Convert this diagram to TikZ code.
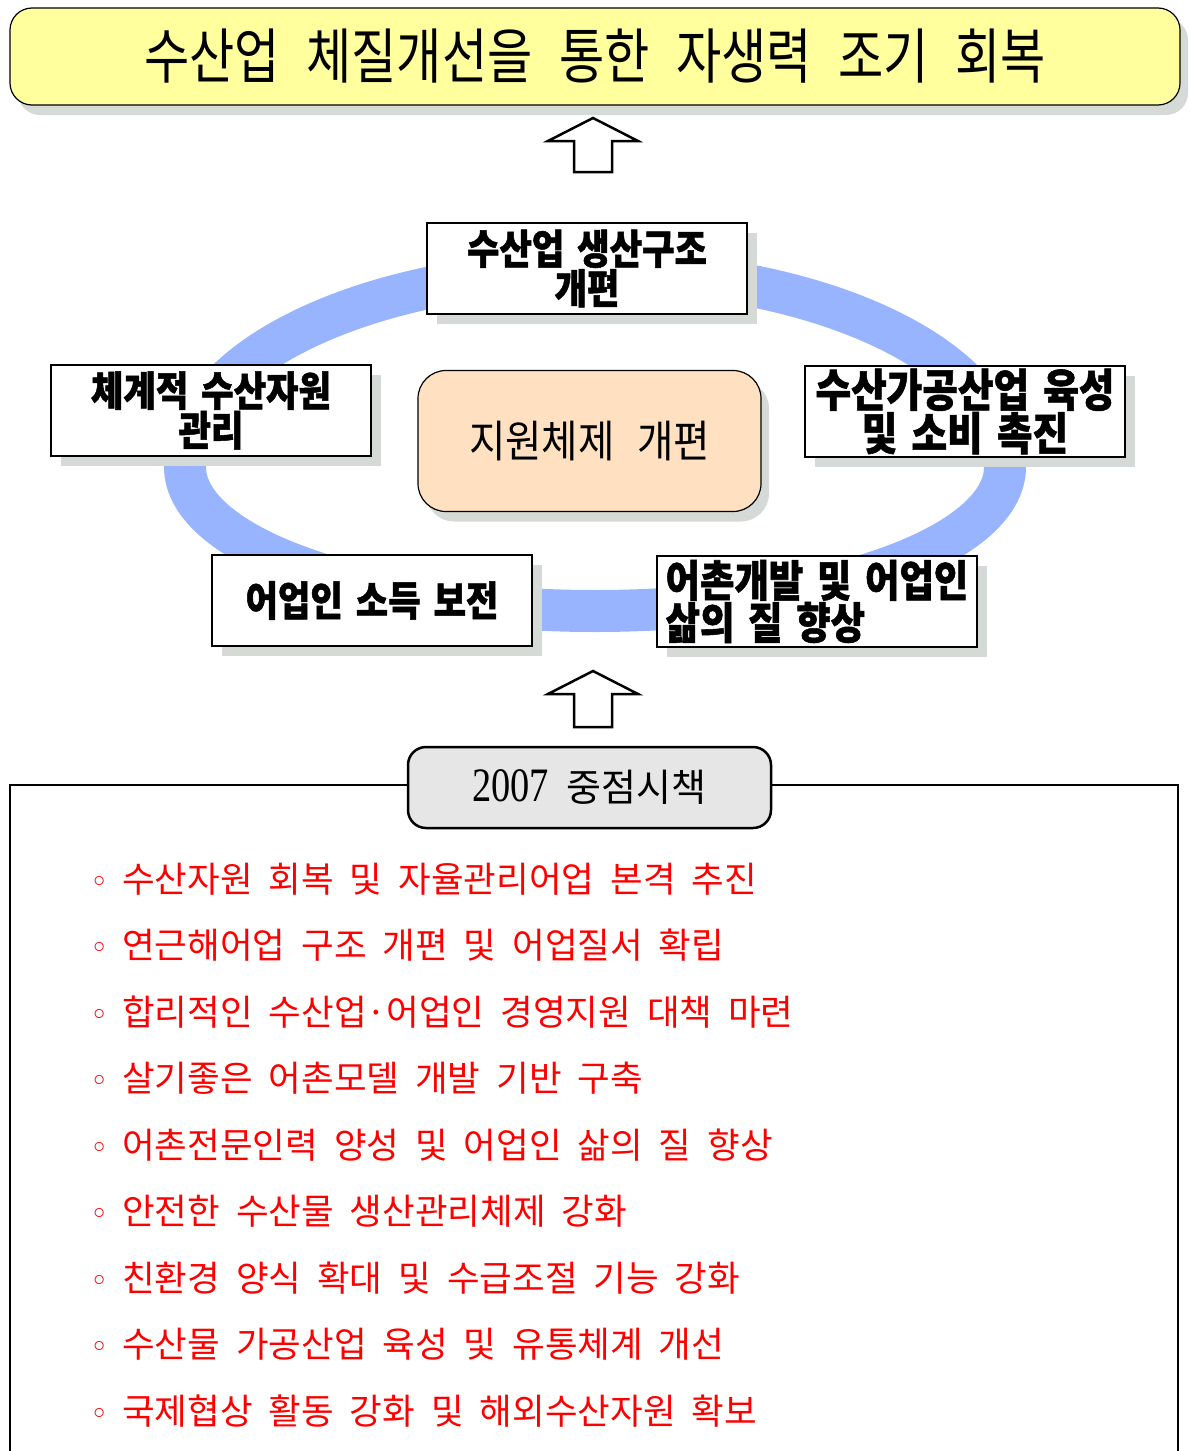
\documentclass[tikz,border=0pt]{standalone}
\usepackage{fontspec}
\setmainfont{Noto Sans CJK KR}
\newfontfamily\krtitle[FakeStretch=0.82,WordSpace=2.4]{Noto Sans CJK KR}
\newfontfamily\krbox[FakeStretch=0.86,WordSpace=1.6,BoldFeatures={FakeBold=1.2}]{Noto Sans CJK KR}
\newfontfamily\krmid[FakeStretch=0.9,WordSpace=2.5]{Noto Sans CJK KR}
\newfontfamily\krlist[WordSpace=4.3]{Noto Sans CJK KR}
\newfontfamily\krtab[WordSpace=2]{Noto Sans CJK KR}
\newfontfamily\digitserif[FakeStretch=0.8]{Liberation Serif}
\newfontfamily\bulletfont{DejaVu Sans}
\usetikzlibrary{shadows}
\definecolor{ringblue}{HTML}{99B4FF}
\definecolor{shgray}{HTML}{D6DAD6}
\definecolor{titleyellow}{HTML}{FFFF9E}
\definecolor{peach}{HTML}{FFE0C0}
\definecolor{tabgray}{HTML}{E6E6E6}
\begin{document}
\begin{tikzpicture}[x=1pt,y=-1pt,
  shadowed/.style={drop shadow={shadow xshift=10pt,shadow yshift=-10pt,fill=shgray,opacity=1}},
  ringbox/.style={draw=black, line width=1.2pt, fill=white, minimum width=320pt, minimum height=91pt, inner sep=0pt, shadowed, align=center},
  boxfont/.style={font=\krbox\bfseries\fontsize{#1}{38}\selectfont},
  listitem/.style={anchor=west, inner sep=0pt, text=red, font=\krlist\fontsize{35.5}{35.5}\selectfont},
  blockarrow/.style={draw=black, line width=2.5pt, fill=white, line join=miter}
]
\useasboundingbox (0,0) rectangle (1189,1451);

% title
\node[draw=black, line width=1.2pt, rounded corners=22pt, fill=titleyellow,
      minimum width=1170pt, minimum height=97pt, inner sep=0pt,
      drop shadow={shadow xshift=8pt,shadow yshift=-10pt,fill=shgray,opacity=1},
      font=\krtitle\fontsize{60}{60}\selectfont] (title) at (595,56.5)
      {수산업 체질개선을 통한 자생력 조기 회복};

% upper block arrow
\draw[blockarrow] (593,118) -- (638,141) -- (612,141) -- (612,172) -- (574,172) -- (574,141) -- (548,141) -- cycle;

% ring
\draw[ringblue, line width=42pt] (185,467)
   arc[start angle=180,end angle=360,x radius=410,y radius=196]
   arc[start angle=0,end angle=180,x radius=410,y radius=144] -- cycle;

% boxes on ring
\node[ringbox, boxfont=41] (top) at (587,268.5) {수산업 생산구조\\개편};
\node[ringbox, boxfont=41] (left) at (211,410.5) {체계적 수산자원\\관리};
\node[ringbox, boxfont=45] (right) at (965,411.5) {수산가공산업 육성\\및 소비 촉진};
\node[ringbox, boxfont=41] (bl) at (372,600.5) {어업인 소득 보전};
\node[ringbox, boxfont=43.5, align=left] (br) at (817,601.5) {어촌개발 및 어업인\\삶의 질 향상};

% center
\node[draw=black, line width=1.2pt, rounded corners=28pt, fill=peach,
      minimum width=343pt, minimum height=141pt, inner sep=0pt,
      drop shadow={shadow xshift=8pt,shadow yshift=-10pt,fill=shgray,opacity=1},
      font=\krmid\fontsize{44}{44}\selectfont] (center) at (589.5,441) {지원체제 개편};

% lower block arrow
\draw[blockarrow] (593,671) -- (638,694) -- (612,694) -- (612,727) -- (574,727) -- (574,694) -- (548,694) -- cycle;

% frame
\draw[line width=2.8pt] (10,1455) -- (10,785) -- (1178,785) -- (1178,1455);

% tab
\node[draw=black, line width=2.5pt, rounded corners=18pt, fill=tabgray,
      minimum width=363pt, minimum height=81pt, inner sep=0pt,
      font=\krtab\fontsize{38}{38}\selectfont] (tab) at (589.5,787.5)
      {{\digitserif\fontsize{48}{48}\selectfont 2007}\hspace{18pt}중점시책};

% list
\node[listitem] (l1) at (90,879) {\makebox[32pt][l]{\bulletfont\fontsize{31}{31}\selectfont ◦}수산자원 회복 및 자율관리어업 본격 추진};
\node[listitem] (l2) at (90,945.5) {\makebox[32pt][l]{\bulletfont\fontsize{31}{31}\selectfont ◦}연근해어업 구조 개편 및 어업질서 확립};
\node[listitem] (l3) at (90,1012) {\makebox[32pt][l]{\bulletfont\fontsize{31}{31}\selectfont ◦}합리적인 수산업·어업인 경영지원 대책 마련};
\node[listitem] (l4) at (90,1078.5) {\makebox[32pt][l]{\bulletfont\fontsize{31}{31}\selectfont ◦}살기좋은 어촌모델 개발 기반 구축};
\node[listitem] (l5) at (90,1145) {\makebox[32pt][l]{\bulletfont\fontsize{31}{31}\selectfont ◦}어촌전문인력 양성 및 어업인 삶의 질 향상};
\node[listitem] (l6) at (90,1211.5) {\makebox[32pt][l]{\bulletfont\fontsize{31}{31}\selectfont ◦}안전한 수산물 생산관리체제 강화};
\node[listitem] (l7) at (90,1278) {\makebox[32pt][l]{\bulletfont\fontsize{31}{31}\selectfont ◦}친환경 양식 확대 및 수급조절 기능 강화};
\node[listitem] (l8) at (90,1344.5) {\makebox[32pt][l]{\bulletfont\fontsize{31}{31}\selectfont ◦}수산물 가공산업 육성 및 유통체계 개선};
\node[listitem] (l9) at (90,1411) {\makebox[32pt][l]{\bulletfont\fontsize{31}{31}\selectfont ◦}국제협상 활동 강화 및 해외수산자원 확보};
\end{tikzpicture}
\end{document}
